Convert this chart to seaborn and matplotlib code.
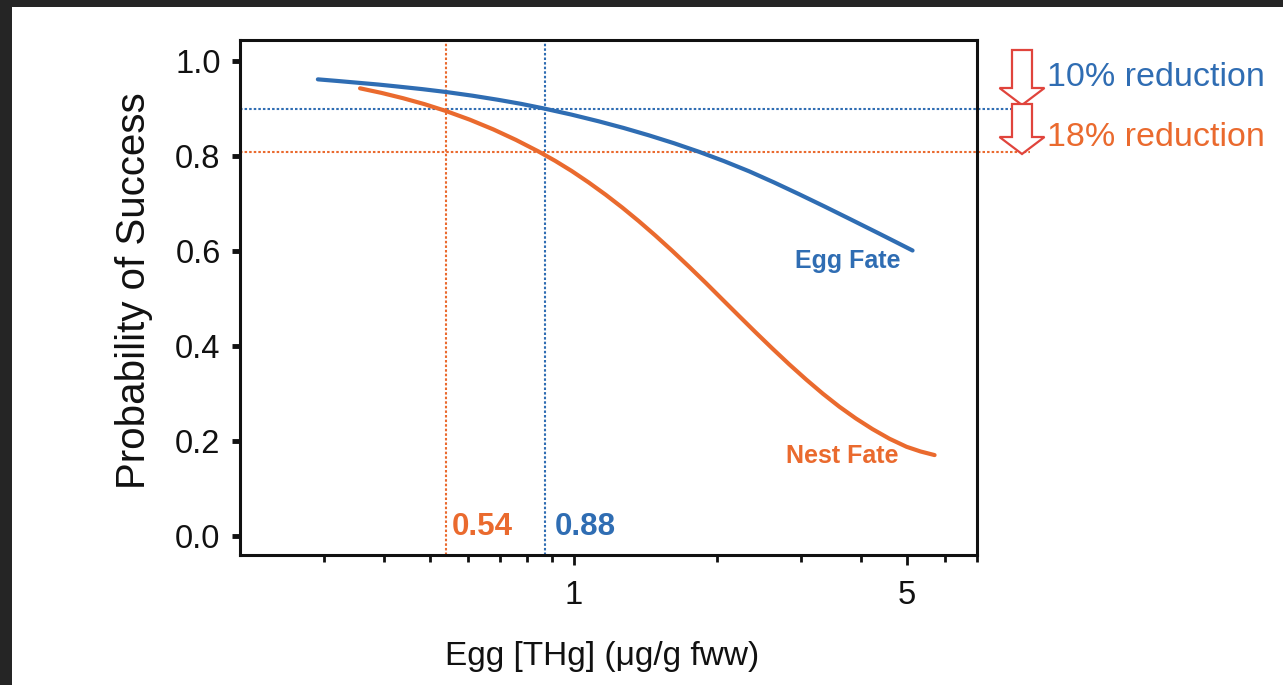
import numpy as np
import pandas as pd
import matplotlib
matplotlib.use("Agg")
import matplotlib.pyplot as plt
import seaborn as sns
from matplotlib.patches import FancyArrow, Rectangle
from matplotlib.ticker import NullFormatter, FixedLocator, FixedFormatter

# ---- data ----
egg_x = [0.2912, 0.3209, 0.3534, 0.3894, 0.4289, 0.4817, 0.5409, 0.6135, 0.6957,
         0.7757, 0.8649, 0.9880, 1.1286, 1.2736, 1.4373, 1.6221, 1.8307, 2.0660,
         2.3316, 2.6313, 2.9695, 3.3513, 3.7821, 4.0667, 4.3728, 4.7361, 5.1296]
egg_y = [0.9621, 0.9586, 0.9549, 0.9512, 0.9469, 0.9415, 0.9354, 0.9277, 0.9189,
         0.9105, 0.9009, 0.8880, 0.8737, 0.8596, 0.8442, 0.8276, 0.8095, 0.7898,
         0.7684, 0.7448, 0.7200, 0.6945, 0.6684, 0.6526, 0.6368, 0.6192, 0.6015]
nest_x = [0.3569, 0.3960, 0.4394, 0.4876, 0.5409, 0.6061, 0.6790, 0.7572, 0.8443,
          0.9145, 0.9904, 1.0752, 1.1676, 1.2644, 1.3692, 1.4833, 1.6064, 1.7442,
          1.8939, 2.0510, 2.2219, 2.4060, 2.6062, 2.8293, 3.0720, 3.3271, 3.6038,
          3.9030, 4.2272, 4.5895, 4.9827, 5.3315, 5.7043]
nest_y = [0.9432, 0.9335, 0.9223, 0.9097, 0.8952, 0.8771, 0.8566, 0.8345, 0.8101,
          0.7905, 0.7691, 0.7449, 0.7189, 0.6920, 0.6634, 0.6331, 0.6015, 0.5676,
          0.5328, 0.4981, 0.4634, 0.4291, 0.3954, 0.3617, 0.3295, 0.2999, 0.2724,
          0.2476, 0.2253, 0.2049, 0.1880, 0.1781, 0.1705]
series_names = ["Egg Fate", "Nest Fate"]
threshold_x = {"Egg Fate": 0.87, "Nest Fate": 0.54}
threshold_y = {"Egg Fate": 0.90, "Nest Fate": 0.81}
threshold_labels = {"Egg Fate": "0.88", "Nest Fate": "0.54"}
reduction_labels = ["10% reduction", "18% reduction"]
y_ticks = [0.0, 0.2, 0.4, 0.6, 0.8, 1.0]
y_ticklabels = ["0.0", "0.2", "0.4", "0.6", "0.8", "1.0"]
x_ticks = [1, 5]
x_ticklabels = ["1", "5"]
x_minor_ticks = [0.3, 0.4, 0.5, 0.6, 0.7, 0.8, 0.9, 2, 3, 4, 6, 7]

BLUE = "#2f6db3"
ORANGE = "#ea6a2e"
RED = "#e0443c"
colors = {"Egg Fate": BLUE, "Nest Fate": ORANGE}

df = pd.concat([
    pd.DataFrame({"x": egg_x, "y": egg_y, "series": "Egg Fate"}),
    pd.DataFrame({"x": nest_x, "y": nest_y, "series": "Nest Fate"}),
], ignore_index=True)

sns.set_theme(style="ticks")
plt.rcParams["font.family"] = ["Liberation Sans", "DejaVu Sans"]

W, H = 1283, 685
fig = plt.figure(figsize=(W / 100, H / 100), dpi=100)
fig.patch.set_facecolor("white")
ax = fig.add_axes([240 / W, 1 - 555 / H, 737 / W, 515 / H])
ax.set_xscale("log")

sns.lineplot(data=df, x="x", y="y", hue="series", palette=colors, sort=False,
             estimator=None, legend=False, linewidth=3.0, ax=ax, zorder=3)
for ln in ax.lines:
    ln.set_solid_joinstyle("round")

ax.set_xlim(0.2, 7.0)
ax.set_ylim(-0.04, 1.045)

# threshold guide lines
dot = (0, (1.2, 1.0))
for s in series_names:
    ax.axvline(threshold_x[s], color=colors[s], lw=1.5, ls=dot, zorder=2)
    ax.axhline(threshold_y[s], xmin=0, xmax=(1030 - 240) / 737, color=colors[s],
               lw=1.5, ls=dot, zorder=2, clip_on=False)

# threshold value labels
ax.text(0.555, 0.018, threshold_labels["Nest Fate"], color=ORANGE, fontsize=22.5,
        fontweight="bold", ha="left", va="center")
ax.text(0.912, 0.018, threshold_labels["Egg Fate"], color=BLUE, fontsize=22.5,
        fontweight="bold", ha="left", va="center")

# series labels
ax.text(3.75, 0.580, "Egg Fate", color=BLUE, fontsize=18, fontweight="bold",
        ha="center", va="center")
ax.text(3.66, 0.169, "Nest Fate", color=ORANGE, fontsize=18, fontweight="bold",
        ha="center", va="center")

# ticks
ax.yaxis.set_major_locator(FixedLocator(y_ticks))
ax.yaxis.set_major_formatter(FixedFormatter(y_ticklabels))
ax.xaxis.set_major_locator(FixedLocator(x_ticks))
ax.xaxis.set_major_formatter(FixedFormatter(x_ticklabels))
ax.xaxis.set_minor_locator(FixedLocator(x_minor_ticks))
ax.xaxis.set_minor_formatter(NullFormatter())
ax.yaxis.set_minor_locator(FixedLocator([]))
ax.tick_params(axis="y", which="major", direction="out", length=6, width=3.5,
               color="#111111", labelsize=23.5, pad=8, labelcolor="#111111")
ax.tick_params(axis="x", which="major", direction="out", length=7, width=2,
               color="#111111", labelsize=23.5, pad=11, labelcolor="#111111")
ax.tick_params(axis="x", which="minor", direction="out", length=5, width=2,
               color="#111111")
ax.tick_params(top=False, right=False, which="both")

for sp in ax.spines.values():
    sp.set_visible(True)
    sp.set_linewidth(2.2)
    sp.set_color("#111111")

ax.set_xlabel("Egg [THg] (μg/g fww)", fontsize=24, color="#111111")
ax.set_ylabel("Probability of Success", fontsize=29, color="#111111")
ax.xaxis.set_label_coords((602 - 240) / 737, (555 - 641) / 515)
ax.yaxis.set_label_coords((153 - 240) / 737, (555 - 291) / 515)

# reduction arrows (outside the axes, figure pixel coords)
def add_arrow(xc, ytop, ytip):
    arr = FancyArrow(xc / W, 1 - ytop / H, 0, -(ytip - ytop) / H,
                     width=20 / W, head_width=45 / W, head_length=17 / H,
                     length_includes_head=True, transform=fig.transFigure,
                     facecolor="white", edgecolor=RED, linewidth=1.6, zorder=5)
    fig.add_artist(arr)

add_arrow(1022, 50, 105)
add_arrow(1022, 104, 154)

fig.text(1047 / W, 1 - 77 / H, reduction_labels[0], color=BLUE, fontsize=24.5,
         ha="left", va="center")
fig.text(1047 / W, 1 - 137 / H, reduction_labels[1], color=ORANGE, fontsize=24.5,
         ha="left", va="center")

# dark screenshot frame at top and left
fig.add_artist(Rectangle((0, 1 - 7 / H), 1, 7 / H, transform=fig.transFigure,
                         facecolor="#252525", edgecolor="none", zorder=10))
fig.add_artist(Rectangle((0, 0), 12 / W, 1, transform=fig.transFigure,
                         facecolor="#252525", edgecolor="none", zorder=10))

fig.savefig("out.png", dpi=100, facecolor="white")
